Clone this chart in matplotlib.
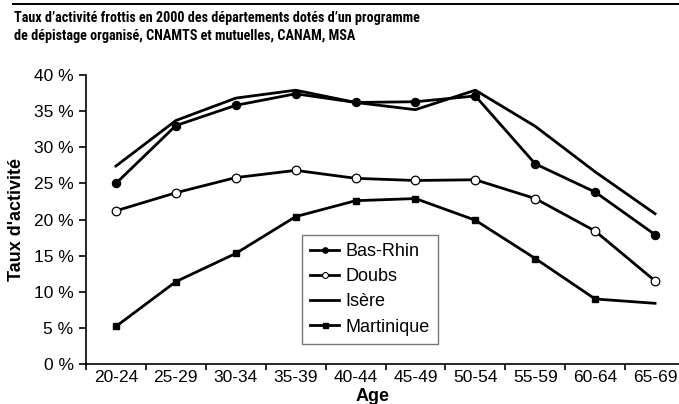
import matplotlib
matplotlib.use("Agg")
import matplotlib.pyplot as plt
from matplotlib.lines import Line2D
import numpy as np

plt.rcParams['font.family'] = ['Liberation Sans', 'DejaVu Sans']

ages = ["20-24", "25-29", "30-34", "35-39", "40-44", "45-49",
        "50-54", "55-59", "60-64", "65-69"]
bas_rhin = [25.0, 33.0, 35.8, 37.4, 36.2, 36.3, 37.1, 27.7, 23.8, 17.9]
doubs = [21.2, 23.7, 25.8, 26.8, 25.7, 25.4, 25.5, 22.9, 18.4, 11.5]
isere = [27.4, 33.7, 36.8, 37.9, 36.2, 35.2, 37.9, 32.9, 26.6, 20.8]
martinique = [5.2, 11.4, 15.3, 20.4, 22.6, 22.9, 19.9, 14.6, 9.0, 8.4]
series_names = ["Bas-Rhin", "Doubs", "Isère", "Martinique"]

title_l1 = "Taux d\u2019activité frottis en 2000 des départements dotés d\u2019un programme"
title_l2 = "de dépistage organisé, CNAMTS et mutuelles, CANAM, MSA"

fig = plt.figure(figsize=(6.79, 4.04), dpi=100)
ax = fig.add_axes([86 / 679, 40 / 404, 599 / 679, 289 / 404])

x = np.arange(len(ages))
lw = 2.0
ax.plot(x, bas_rhin, color='black', lw=lw, marker='o', ms=5.8, mfc='black')
ax.plot(x, doubs, color='black', lw=lw, marker='o', ms=6.2, mfc='white', mew=0.9)
ax.plot(x, isere, color='black', lw=lw)
ax.plot(x[:-1], martinique[:-1], color='black', lw=lw, marker='s', ms=5)
ax.plot(x[-2:], martinique[-2:], color='black', lw=lw)

ax.set_xlim(-0.5, len(ages) - 0.5)
ax.set_ylim(0, 40)
ax.set_yticks(np.arange(0, 41, 5))
ax.set_yticklabels([f"{v} %" for v in range(0, 41, 5)], fontsize=12.5)
ax.set_xticks(np.arange(-0.5, len(ages) - 0.5, 1))
ax.set_xticklabels([])
ax.set_xticks(x, minor=True)
ax.set_xticklabels(ages, minor=True, fontsize=12.5)
ax.tick_params(axis='x', which='minor', length=0, pad=4)
ax.tick_params(axis='x', which='major', length=4.5, width=1.2, direction='out')
ax.tick_params(axis='y', length=5, width=1.2, direction='out', pad=4)

for s in ['top', 'right']:
    ax.spines[s].set_visible(False)
for s in ['left', 'bottom']:
    ax.spines[s].set_linewidth(1.2)

ax.set_ylabel("Taux d'activité", fontsize=13, fontweight='bold')
ax.yaxis.set_label_coords(-61 / 599, 0.5)
ax.set_xlabel("Age", fontsize=13, fontweight='bold', va='top')
ax.xaxis.set_label_coords((373 - 86) / 599, -(388 - 364) / 289)

handles = [
    Line2D([], [], color='black', lw=lw, marker='o', ms=3.8, mfc='black'),
    Line2D([], [], color='black', lw=lw, marker='o', ms=4.2, mfc='white', mew=0.8),
    Line2D([], [], color='black', lw=lw),
    Line2D([], [], color='black', lw=lw, marker='s', ms=3.6),
]
leg = ax.legend(handles, series_names, loc='upper left',
                bbox_to_anchor=(216 / 599, 1 - 160 / 289),
                borderaxespad=0, fontsize=13, frameon=True, fancybox=False,
                handlelength=1.6, borderpad=0.45, labelspacing=0.45,
                handletextpad=0.35)
leg.get_frame().set_edgecolor('#555555')
leg.get_frame().set_linewidth(1.0)

title_font = ['Roboto Condensed', 'Liberation Sans']
fig.text(14 / 679, 1 - 22 / 404, title_l1, fontsize=10.2, fontweight='bold',
         family=title_font, va='baseline', ha='left')
fig.text(14 / 679, 1 - 40 / 404, title_l2, fontsize=10.2, fontweight='bold',
         family=title_font, va='baseline', ha='left')
fig.add_artist(Line2D([13 / 679, 1.0], [1 - 4 / 404, 1 - 4 / 404],
                      color='black', lw=1.4))

fig.savefig("out.png", dpi=100)
